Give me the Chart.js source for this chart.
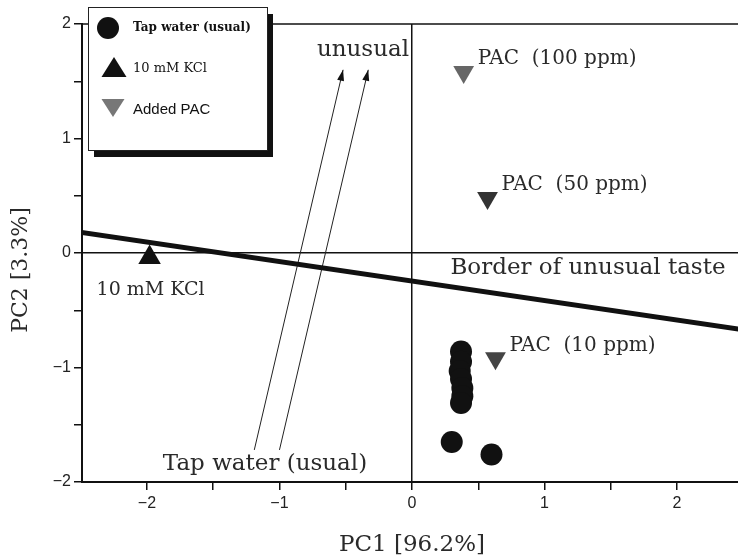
<!DOCTYPE html>
<html>
<head>
<meta charset="utf-8">
<title>PCA: unusual taste</title>
<style>
  html, body { margin: 0; padding: 0; background: #fff; overflow: hidden; }
  #wrap { width: 738px; height: 559px; }
  canvas { display: block; }
</style>
</head>
<body>
<div id="wrap"><canvas id="chart" width="738" height="559"></canvas></div>
<script src="https://cdn.jsdelivr.net/npm/chart.js"></script>
<script>
// values (PC1, PC2)
const tapX = [0.37, 0.37, 0.36, 0.37, 0.38, 0.38, 0.37, 0.30, 0.60];
const tapY = [-0.86, -0.95, -1.03, -1.10, -1.18, -1.25, -1.31, -1.65, -1.76];
const kclX = [-1.98];
const kclY = [-0.04];
const pacNames = ['PAC  (100 ppm)', 'PAC  (50 ppm)', 'PAC  (10 ppm)'];
const pacX = [0.39, 0.57, 0.63];
const pacY = [1.58, 0.48, -0.92];
const borderX = [-2.5, 2.5];
const borderY = [0.18, -0.67];
// two arrows from "Tap water (usual)" up to "unusual"
const arrowFromX = [-1.19, -1.00];
const arrowFromY = [-1.72, -1.72];
const arrowToX = [-0.52, -0.33];
const arrowToY = [1.60, 1.60];
// free text on the plot, in data units
const noteText = ['unusual', 'Border of unusual taste', '10 mM KCl', 'Tap water (usual)'];
const noteX = [-0.37, 0.29, -2.38, -1.88];
const noteY = [1.77, -0.13, -0.32, -1.84];
const noteAlign = ['center', 'left', 'left', 'left'];
const noteSize = [23, 23, 19, 23];
// visible axis window (the figure is cropped just short of 2.5 on the right)
const xRange = [-2.49, 2.46];
const yRange = [-2, 2];

const serif = '"DejaVu Serif", "Liberation Serif", serif';
const sans = '"Liberation Sans", Arial, sans-serif';

const pts = (xs, ys) => xs.map((x, i) => ({ x: x, y: ys[i] }));
const minus = v => String(v).replace('-', '\u2212');

function triangle(ctx, x, y, w, h, down, fill) {
  ctx.beginPath();
  if (down) {
    ctx.moveTo(x - w / 2, y - h / 2);
    ctx.lineTo(x + w / 2, y - h / 2);
    ctx.lineTo(x, y + h / 2);
  } else {
    ctx.moveTo(x - w / 2, y + h / 2);
    ctx.lineTo(x + w / 2, y + h / 2);
    ctx.lineTo(x, y - h / 2);
  }
  ctx.closePath();
  ctx.fillStyle = fill;
  ctx.fill();
}

const extras = {
  id: 'extras',
  beforeDatasetsDraw(chart) {
    const ctx = chart.ctx, a = chart.chartArea;
    ctx.save();
    ctx.strokeStyle = '#111';
    ctx.lineWidth = 1.5;
    ctx.beginPath();
    ctx.moveTo(a.left, a.top);
    ctx.lineTo(a.right, a.top);
    ctx.stroke();
    ctx.restore();
  },
  afterDatasetsDraw(chart) {
    const ctx = chart.ctx, sx = chart.scales.x, sy = chart.scales.y;
    ctx.save();

    // arrow heads
    ctx.fillStyle = '#111';
    arrowToX.forEach((tx, i) => {
      const x1 = sx.getPixelForValue(arrowFromX[i]), y1 = sy.getPixelForValue(arrowFromY[i]);
      const x2 = sx.getPixelForValue(tx), y2 = sy.getPixelForValue(arrowToY[i]);
      const ang = Math.atan2(y2 - y1, x2 - x1);
      const len = 11, half = 3.5;
      ctx.beginPath();
      ctx.moveTo(x2, y2);
      ctx.lineTo(x2 - len * Math.cos(ang) + half * Math.sin(ang), y2 - len * Math.sin(ang) - half * Math.cos(ang));
      ctx.lineTo(x2 - len * Math.cos(ang) - half * Math.sin(ang), y2 - len * Math.sin(ang) + half * Math.cos(ang));
      ctx.closePath();
      ctx.fill();
    });

    // notes
    ctx.fillStyle = '#2a2a2a';
    ctx.textBaseline = 'middle';
    noteText.forEach((t, i) => {
      ctx.font = noteSize[i] + 'px ' + serif;
      ctx.textAlign = noteAlign[i];
      ctx.fillText(t, sx.getPixelForValue(noteX[i]), sy.getPixelForValue(noteY[i]));
    });
    ctx.textAlign = 'left';
    ctx.font = '20px ' + serif;
    pacNames.forEach((t, i) => {
      ctx.fillText(t, sx.getPixelForValue(pacX[i]) + 14, sy.getPixelForValue(pacY[i]) - 13);
    });

    // axis titles
    ctx.font = '23px ' + serif;
    ctx.textAlign = 'center';
    ctx.fillText('PC1 [96.2%]', sx.getPixelForValue(0), 545);
    ctx.save();
    ctx.translate(21, 270);
    ctx.rotate(-Math.PI / 2);
    ctx.font = '22px ' + serif;
    ctx.fillText('PC2 [3.3%]', 0, 0);
    ctx.restore();

    // legend box with drop shadow
    const bx = 88, by = 7, bw = 179, bh = 143;
    ctx.fillStyle = '#111';
    ctx.fillRect(bx + 6, by + 7, bw, bh);
    ctx.fillStyle = '#fff';
    ctx.fillRect(bx, by, bw, bh);
    ctx.strokeStyle = '#222';
    ctx.lineWidth = 1;
    ctx.strokeRect(bx + 0.5, by + 0.5, bw, bh);

    const ds = chart.data.datasets;
    ctx.fillStyle = '#111';
    ctx.beginPath();
    ctx.arc(108, 28, 11, 0, Math.PI * 2);
    ctx.fill();
    triangle(ctx, 114, 67, 25, 20, false, '#111');
    triangle(ctx, 113, 108, 23, 18, true, '#777');
    ctx.fillStyle = '#111';
    ctx.textAlign = 'left';
    ctx.font = 'bold 12px ' + serif;
    ctx.fillText(ds[0].label, 133, 28);
    ctx.font = '13px ' + serif;
    ctx.fillText(ds[1].label, 133, 69);
    ctx.font = '15px ' + sans;
    ctx.fillText(ds[2].label, 133, 110);
    ctx.restore();
  }
};

const axisGrid = {
  drawOnChartArea: true,
  color: c => (c.tick && c.tick.value === 0) ? '#111' : 'rgba(0,0,0,0)',
  lineWidth: 1.5,
  tickColor: '#111',
  tickLength: 8,
  tickWidth: 1.5
};

new Chart(document.getElementById('chart'), {
  type: 'scatter',
  data: {
    datasets: [
      {
        label: 'Tap water (usual)',
        data: pts(tapX, tapY),
        pointStyle: 'circle',
        pointRadius: 11,
        backgroundColor: '#111',
        borderColor: '#111',
        borderWidth: 0
      },
      {
        label: '10 mM KCl',
        data: pts(kclX, kclY),
        pointStyle: 'triangle',
        pointRadius: 13,
        backgroundColor: '#111',
        borderColor: '#111',
        borderWidth: 0
      },
      {
        label: 'Added PAC',
        data: pts(pacX, pacY),
        pointStyle: 'triangle',
        rotation: 180,
        pointRadius: 12,
        backgroundColor: ['#666', '#333', '#444'],
        borderColor: ['#666', '#333', '#444'],
        borderWidth: 0
      },
      {
        label: 'border',
        data: pts(borderX, borderY),
        showLine: true,
        borderColor: '#111',
        borderWidth: 5,
        pointRadius: 0
      },
      {
        label: 'arrow1',
        data: pts([arrowFromX[0], arrowToX[0]], [arrowFromY[0], arrowToY[0]]),
        showLine: true,
        borderColor: '#222',
        borderWidth: 1,
        pointRadius: 0
      },
      {
        label: 'arrow2',
        data: pts([arrowFromX[1], arrowToX[1]], [arrowFromY[1], arrowToY[1]]),
        showLine: true,
        borderColor: '#222',
        borderWidth: 1,
        pointRadius: 0
      }
    ]
  },
  options: {
    responsive: false,
    animation: false,
    layout: { autoPadding: false, padding: { top: 24, right: 0, left: 0, bottom: 0 } },
    plugins: { legend: { display: false }, tooltip: { enabled: false } },
    scales: {
      x: {
        type: 'linear',
        min: xRange[0],
        max: xRange[1],
        ticks: {
          stepSize: 0.5,
          includeBounds: false,
          autoSkip: false,
          maxRotation: 0,
          padding: 4,
          color: '#222',
          font: { family: sans, size: 16 },
          callback: v => Number.isInteger(v) ? minus(v) : ''
        },
        grid: axisGrid,
        border: { display: true, color: '#111', width: 2 },
        afterFit: s => { s.height = 77; s.paddingLeft = 0; s.paddingRight = 0; }
      },
      y: {
        type: 'linear',
        min: yRange[0],
        max: yRange[1],
        ticks: {
          stepSize: 0.5,
          autoSkip: false,
          padding: 3,
          color: '#222',
          font: { family: sans, size: 16 },
          callback: v => Number.isInteger(v) ? minus(v) : ''
        },
        grid: axisGrid,
        border: { display: true, color: '#111', width: 2 },
        afterFit: s => { s.width = 82; s.paddingTop = 0; s.paddingBottom = 0; }
      }
    }
  },
  plugins: [extras]
});
</script>
</body>
</html>
